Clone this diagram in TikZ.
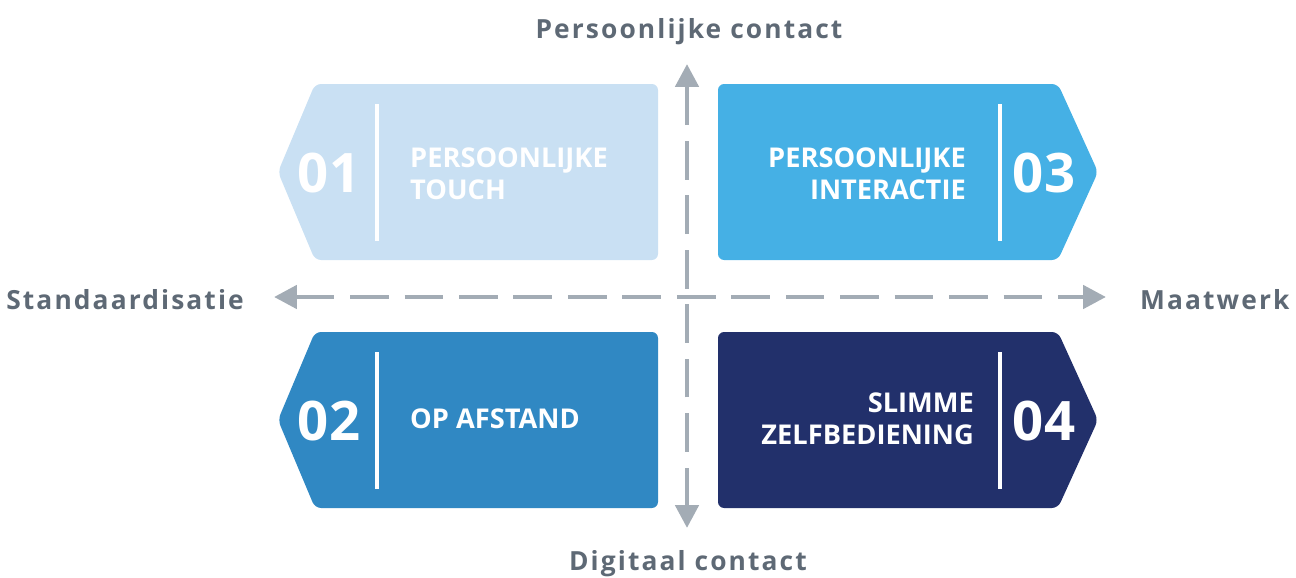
\documentclass[tikz,border=0pt]{standalone}
\usepackage{fontspec}
\setmainfont{Open Sans}
\newfontfamily\axisfont[LetterSpace=8]{Open Sans}
\usetikzlibrary{arrows.meta}

\definecolor{touchblue}{HTML}{C9E0F3}
\definecolor{interblue}{HTML}{45B0E5}
\definecolor{afstandblue}{HTML}{3088C3}
\definecolor{zelfblue}{HTML}{22306B}
\definecolor{axisgray}{HTML}{A3ACB5}
\definecolor{labelgray}{HTML}{5E6975}

\tikzset{
  axis/.style={axisgray, line width=2.8pt, dash pattern=on 22pt off 9pt,
    {Triangle[length=13pt,width=13pt]}-{Triangle[length=13pt,width=13pt]}},
  axislabel/.style={labelgray, font=\axisfont\bfseries\fontsize{15}{18}\selectfont},
  tag/.style={rounded corners=3.5pt},
  bignum/.style={white, font=\bfseries\fontsize{31}{36}\selectfont},
  tagtext/.style={white, font=\bfseries\fontsize{15.5}{18}\selectfont},
  divider/.style={white, line width=2.8pt}
}

\begin{document}
\begin{tikzpicture}[x=0.02cm,y=-0.02cm]
  \useasboundingbox (0,0) rectangle (1296,578);

  % left pointing tags
  \foreach \y/\col/\num in {84/touchblue/01, 332/afstandblue/02} {
    \fill[tag,\col] (315,\y) -- (658,\y) -- (658,\y+176) -- (315,\y+176) -- (278,\y+88) -- cycle;
    \draw[divider] (377,\y+20) -- (377,\y+157);
    \node[bignum] (n\num) at (329,\y+89) {\num};
  }

  % right pointing tags
  \foreach \y/\col/\num in {84/interblue/03, 332/zelfblue/04} {
    \fill[tag,\col] (718,\y) -- (1058,\y) -- (1098,\y+88) -- (1058,\y+176) -- (718,\y+176) -- cycle;
    \draw[divider] (1000,\y+20) -- (1000,\y+157);
    \node[bignum] (n\num) at (1044,\y+89) {\num};
  }

  \node[tagtext, anchor=west, align=left] (t01) at (404,174) {PERSOONLIJKE\\TOUCH};
  \node[tagtext, anchor=west] (t02) at (404,419) {OP AFSTAND};
  \node[tagtext, anchor=east, align=right] (t03) at (972,174) {PERSOONLIJKE\\INTERACTIE};
  \node[tagtext, anchor=east, align=right] (t04) at (980,419) {SLIMME\\ZELFBEDIENING};

  % Draw axes
  \coordinate (top) at (687,64);
  \coordinate (bottom) at (687,528);
  \coordinate (left) at (274,297);
  \coordinate (right) at (1106,297);
  \draw[axis] (bottom) -- (top);
  \draw[axis] (left) -- (right);

  \node[axislabel] (persoonlijk) at (689,32) {Persoonlijke contact};
  \node[axislabel] (digitaal) at (688,564) {Digitaal contact};
  \node[axislabel, anchor=east] (standaard) at (250,300) {Standaardisatie};
  \node[axislabel, anchor=west] (maatwerk) at (1134,300) {Maatwerk};
\end{tikzpicture}
\end{document}
